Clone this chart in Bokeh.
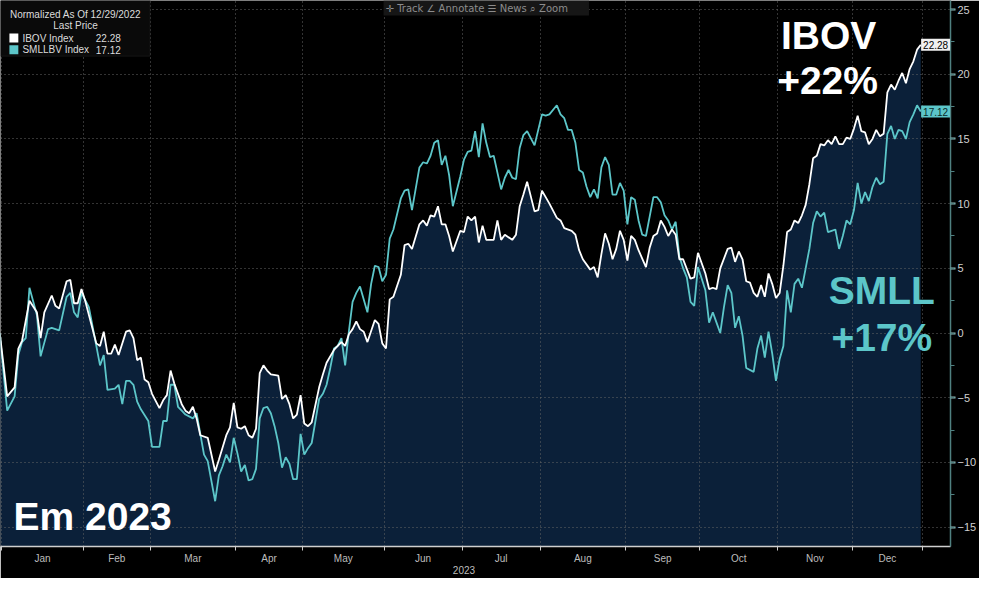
from bokeh.plotting import figure
from bokeh.models import Range1d, FixedTicker, SingleIntervalTicker, Label, BoxAnnotation
from bokeh.embed import file_html
from bokeh.resources import INLINE

# ---------------- data ----------------
months = ["Jan", "Feb", "Mar", "Apr", "May", "Jun", "Jul", "Aug", "Sep", "Oct", "Nov", "Dec"]
month_trading_days = [22, 18, 23, 18, 22, 21, 21, 23, 20, 21, 20, 19]
year_label = "2023"

# trading-day index (0 = 12/29/2022 base) and normalized % change
ibov_day = [0, 2, 4, 5, 6, 8, 10, 11, 12, 14, 15, 16, 18, 19, 20, 21, 22, 23, 26, 27, 28, 29, 30, 31, 32,
            34, 35, 36, 37, 38, 39, 40, 41, 43, 44, 45, 46, 47, 49, 50, 51, 52, 53, 54, 56, 58, 59, 61, 62,
            63, 64, 65, 66, 67, 68, 69, 70, 71, 72, 73, 75, 76, 77, 78, 79, 80, 81, 82, 83, 84, 86, 87, 88,
            90, 91, 92, 93, 94, 95, 96, 97, 98, 99, 101, 102, 103, 104, 105, 106, 108, 109, 110, 111, 113,
            114, 115, 116, 117, 118, 119, 120, 121, 122, 124, 125, 126, 127, 128, 129, 130, 131, 132, 133,
            134, 135, 136, 138, 139, 140, 141, 142, 144, 145, 146, 147, 148, 150, 151, 152, 154, 155, 156,
            157, 159, 160, 161, 162, 163, 164, 165, 166, 167, 168, 169, 170, 171, 172, 174, 175, 176, 177,
            178, 179, 180, 181, 182, 183, 184, 186, 187, 188, 190, 191, 192, 193, 194, 196, 197, 198, 199,
            200, 201, 202, 203, 204, 205, 206, 207, 208, 209, 210, 211, 212, 213, 214, 215, 216, 217, 218,
            219, 220, 221, 222, 223, 224, 225, 226, 227, 228, 229, 230, 231, 232, 233, 234, 235, 236, 237,
            238, 239, 240, 241, 242, 243, 244, 245, 246, 247, 248]
ibov_val = [0, -4.9, -4.2, -1.2, -0.6, 2.5, 1.6, -0.4, 1.6, 2.9, 2.1, 1.9, 4.0, 4.1, 2.3, 2.3, 3.4, 2.5, -0.8,
            -1.0, 0.1, -1.6, -1.6, -0.9, -1.7, 0.1, 0.2, -0.4, -2.1, -1.9, -3.6, -3.8, -4.7, -5.8, -5.2, -4.8,
            -2.9, -3.9, -5.5, -6.0, -6.2, -5.7, -6.6, -7.9, -8.1, -10.7, -9.8, -7.9, -7.3, -5.4, -7.3, -7.4,
            -7.2, -7.9, -8.1, -7.4, -3.1, -2.5, -2.9, -3.2, -3.3, -5.1, -4.8, -5.5, -6.6, -6.3, -4.8, -7.0,
            -7.2, -6.9, -4.2, -3.2, -2.3, -1.3, -1.0, -0.7, -1.0, -0.1, 0.3, 0.9, 0.3, 0.1, -0.7, 1.0, 0.7,
            -0.8, -1.2, 2.6, 2.8, 4.5, 6.8, 6.9, 6.5, 8.4, 8.7, 8.3, 9.1, 9.0, 9.8, 8.4, 8.4, 7.5, 6.3, 7.9,
            7.8, 9.0, 8.7, 9.0, 7.0, 8.3, 7.2, 7.2, 7.2, 8.7, 7.2, 7.6, 7.2, 7.6, 9.8, 10.7, 11.7, 9.4, 9.5,
            11.0, 10.5, 10.0, 8.9, 8.7, 8.1, 7.9, 7.6, 6.4, 5.7, 4.9, 5.1, 4.3, 6.1, 7.7, 6.9, 5.7, 6.5, 7.9,
            7.2, 5.6, 7.5, 7.2, 6.4, 5.1, 6.6, 7.5, 7.7, 8.7, 8.2, 7.5, 8.0, 7.6, 5.7, 5.7, 4.2, 4.3, 6.2,
            4.6, 3.4, 3.5, 3.4, 5.0, 6.5, 6.6, 5.5, 6.3, 5.7, 4.0, 3.9, 3.1, 2.8, 3.7, 2.8, 4.6, 3.8, 2.7,
            3.1, 5.2, 7.8, 8.0, 8.7, 8.5, 9.1, 9.9, 11.5, 13.5, 13.7, 14.6, 14.5, 14.9, 14.6, 15.2, 14.6,
            14.6, 15.1, 15.0, 15.8, 16.8, 15.6, 15.5, 14.6, 15.0, 15.7, 15.2, 15.4, 18.6, 19.2, 18.8, 19.5,
            20.1, 19.3, 20.4, 21.0, 21.9, 22.28]

smll_day = [0, 2, 4, 5, 6, 7, 8, 10, 11, 13, 14, 15, 16, 18, 19, 20, 21, 22, 24, 26, 27, 28, 29, 31, 32, 33,
            34, 35, 36, 37, 38, 40, 41, 43, 44, 45, 46, 47, 48, 49, 50, 52, 53, 55, 56, 58, 59, 60, 61, 62,
            63, 64, 65, 66, 67, 68, 69, 70, 71, 72, 73, 74, 75, 76, 77, 78, 79, 80, 81, 82, 83, 84, 86, 87,
            88, 89, 90, 91, 92, 93, 94, 95, 96, 97, 99, 100, 101, 102, 103, 104, 105, 106, 108, 109, 110,
            111, 113, 114, 115, 116, 117, 118, 119, 120, 121, 122, 124, 125, 126, 127, 128, 129, 130, 131,
            132, 133, 135, 136, 137, 138, 139, 140, 141, 142, 144, 146, 147, 148, 150, 151, 152, 153, 154,
            155, 156, 157, 158, 159, 160, 161, 162, 163, 164, 165, 166, 167, 168, 169, 170, 171, 172, 173,
            174, 176, 177, 178, 179, 180, 181, 182, 183, 184, 185, 186, 187, 188, 190, 191, 192, 193, 194,
            195, 196, 197, 198, 199, 200, 201, 203, 204, 205, 206, 207, 208, 209, 210, 211, 212, 213, 214,
            215, 216, 217, 218, 219, 220, 221, 222, 223, 224, 225, 226, 227, 228, 229, 230, 231, 232, 233,
            234, 235, 236, 237, 238, 239, 240, 241, 242, 243, 244, 245, 246, 247, 248]
smll_val = [0, -6.0, -4.9, -1.7, -0.7, -0.4, 3.5, 1.4, -1.8, 0.3, 0.4, 0.3, 0.2, 2.8, 3.1, 1.6, 1.2, 3.1, 2.0,
            -1.0, -2.5, -1.7, -4.4, -4.3, -4.0, -5.5, -3.7, -3.7, -4.0, -5.3, -5.9, -6.8, -8.8, -8.8, -6.8,
            -6.8, -4.0, -4.0, -5.7, -6.0, -6.3, -6.6, -6.2, -9.4, -9.9, -13.0, -11.0, -10.3, -9.4, -10.0,
            -8.1, -9.3, -10.7, -10.2, -11.4, -11.3, -10.5, -6.6, -5.8, -5.7, -6.2, -7.2, -8.5, -10.4, -9.6,
            -10.1, -11.3, -11.3, -7.8, -9.4, -8.9, -8.5, -5.1, -4.7, -4.0, -2.7, -1.2, -1.0, -0.4, -2.5, 0.1,
            2.4, 3.1, 3.6, 1.6, 3.8, 5.2, 5.1, 4.0, 4.5, 7.3, 8.0, 10.4, 11.0, 11.1, 9.5, 12.8, 13.2, 13.1,
            13.7, 14.7, 14.9, 13.0, 13.7, 12.2, 9.8, 12.1, 13.4, 14.0, 14.1, 15.6, 13.6, 16.2, 14.7, 13.6,
            13.7, 11.1, 12.0, 12.6, 12.0, 11.9, 14.3, 15.3, 15.6, 14.5, 16.9, 16.8, 16.9, 17.6, 16.9, 16.6,
            15.7, 15.7, 14.7, 12.6, 12.4, 11.3, 10.5, 11.1, 10.4, 12.8, 13.6, 13.0, 10.7, 10.7, 11.6, 11.0,
            8.4, 10.5, 10.3, 8.7, 7.6, 7.5, 10.5, 10.5, 10.1, 9.1, 8.7, 8.0, 8.6, 5.9, 5.0, 4.3, 2.4, 2.1,
            5.1, 3.3, 0.8, 1.6, 0.8, 0.0, 2.0, 3.7, 3.1, 0.4, 1.3, -0.2, -2.7, -3.0, -1.2, -0.2, -1.9, 0.1,
            -1.6, -3.7, -2.0, -1.0, 3.3, 1.6, 3.8, 4.2, 3.5, 5.0, 6.5, 8.5, 9.4, 9.0, 9.3, 7.8, 7.9, 8.0,
            6.5, 7.5, 8.7, 8.4, 9.5, 11.6, 10.0, 10.9, 10.2, 11.3, 12.0, 11.5, 11.7, 15.4, 16.0, 15.0, 15.7,
            15.6, 15.0, 16.3, 16.9, 17.6, 17.12]

ibov_last = 22.28
smll_last = 17.12

# month boundaries and centres on the trading-day axis
bounds = [0.5]
for n in month_trading_days:
    bounds.append(bounds[-1] + n)
mids = [(a + b) / 2 for a, b in zip(bounds[:-1], bounds[1:])]
year_pos = (bounds[0] + bounds[-1]) / 2 + 0.5

TEAL = "#5cc6c9"
FILL = "#0b2039"
FONT = "Liberation Sans"
X_END = 256.0

p = figure(width=979, height=578, x_range=Range1d(0.2, X_END), y_range=Range1d(-16.5, 25.7),
           output_backend="svg", toolbar_location=None, y_axis_location="right",
           background_fill_color="black", border_fill_color="black", outline_line_color=None,
           min_border_left=0, min_border_top=0, min_border_right=0, min_border_bottom=0)

# area under IBOV
p.varea(x=ibov_day, y1=-20, y2=ibov_val, fill_color=FILL, level="image")
p.line(smll_day, smll_val, line_color=TEAL, line_width=1.8)
p.line(ibov_day, ibov_val, line_color="white", line_width=1.8)

# y axis (right)
p.yaxis.ticker = SingleIntervalTicker(interval=5, num_minor_ticks=2)
p.yaxis.major_label_text_color = "#d0d0d0"
p.yaxis.major_label_text_font = FONT
p.yaxis.major_label_text_font_size = "11px"
p.yaxis.axis_line_color = "#4f8080"
p.yaxis.axis_line_width = 1.5
p.yaxis.major_tick_line_color = "#8fbcbc"
p.yaxis.major_tick_line_width = 2
p.yaxis.major_tick_out = 5
p.yaxis.major_tick_in = 0
p.yaxis.minor_tick_line_color = "#4f8080"
p.yaxis.minor_tick_out = 4
p.yaxis.minor_tick_in = 0
p.yaxis.major_label_standoff = 2

# x axis: month names between month-boundary ticks, year on a second line
overrides = {m: name for m, name in zip(mids, months)}
overrides[year_pos] = " \n" + year_label
p.xaxis.ticker = FixedTicker(ticks=mids + [year_pos], minor_ticks=bounds)
p.xaxis.major_label_overrides = overrides
p.xaxis.major_tick_out = 0
p.xaxis.major_tick_in = 0
p.xaxis.minor_tick_out = 4
p.xaxis.minor_tick_in = 0
p.xaxis.minor_tick_line_color = "#cccccc"
p.xaxis.axis_line_color = "#cfcfcf"
p.xaxis.axis_line_width = 1.5
p.xaxis.major_label_text_color = "#bdbdbd"
p.xaxis.major_label_text_font = FONT
p.xaxis.major_label_text_font_size = "10px"
p.xaxis.major_label_text_line_height = 1.1
p.xaxis.major_label_standoff = 2

p.xgrid.ticker = FixedTicker(ticks=bounds)
for g in (p.xgrid, p.ygrid):
    g.grid_line_color = "#666666"
    g.grid_line_dash = "1 3"
    g.grid_line_width = 1

# last-price tags at the right edge
p.add_layout(Label(x=X_END - 0.1, y=ibov_last, text=f"{ibov_last:.2f}", text_align="right",
                   text_baseline="middle", text_color="black", text_font=FONT, text_font_size="10px",
                   background_fill_color="#f0f0f0", padding=2))
p.add_layout(Label(x=X_END - 0.1, y=smll_last, text=f"{smll_last:.2f}", text_align="right",
                   text_baseline="middle", text_color="#0a2a2a", text_font=FONT, text_font_size="10px",
                   background_fill_color=TEAL, padding=2))

# legend box (top-left)
p.add_layout(BoxAnnotation(left=0.2, right=40.5, top=25.7, bottom=21.4, fill_color="#0a0a0a",
                           fill_alpha=1, line_color="#3c3c3c", line_width=1))
leg_style = dict(text_color="#dcdcdc", text_font=FONT, text_font_size="10px", text_baseline="middle")
p.add_layout(Label(x=20.4, y=24.65, text="Normalized As Of 12/29/2022", text_align="center", **leg_style))
p.add_layout(Label(x=20.4, y=23.75, text="Last Price", text_align="center", **leg_style))
p.add_layout(BoxAnnotation(left=2.6, right=5.0, top=23.15, bottom=22.45, fill_color="white",
                           fill_alpha=1, line_color=None))
p.add_layout(BoxAnnotation(left=2.6, right=5.0, top=22.25, bottom=21.55, fill_color=TEAL,
                           fill_alpha=1, line_color=None))
p.add_layout(Label(x=6.1, y=22.8, text="IBOV Index", text_align="left", **leg_style))
p.add_layout(Label(x=32.6, y=22.8, text=f"{ibov_last:.2f}", text_align="right", **leg_style))
p.add_layout(Label(x=6.1, y=21.9, text="SMLLBV Index", text_align="left", **leg_style))
p.add_layout(Label(x=32.6, y=21.9, text=f"{smll_last:.2f}", text_align="right", **leg_style))

# terminal toolbar strip
p.add_layout(Label(x=131.0, y=25.7, text="✛ Track   ∠ Annotate   ☰ News   ⌕ Zoom", text_align="center",
                   text_baseline="top", text_color="#8c8c8c", text_font="DejaVu Sans", text_font_size="10px",
                   background_fill_color="#161616", padding=2))

# big annotations
big = dict(text_font=FONT, text_font_style="bold", text_font_size="39px", text_align="center",
           text_baseline="middle")
p.add_layout(Label(x=223.2, y=23.0, text="IBOV", text_color="white", **big))
p.add_layout(Label(x=222.9, y=19.55, text="+22%", text_color="white", **big))
p.add_layout(Label(x=237.5, y=3.3, text="SMLL", text_color=TEAL, **big))
p.add_layout(Label(x=237.5, y=-0.35, text="+17%", text_color=TEAL, **big))
p.add_layout(Label(x=3.7, y=-14.2, text="Em 2023", text_color="white", text_font=FONT, text_font_style="bold",
                   text_font_size="39px", text_align="left", text_baseline="middle"))

open("out.html", "w").write(file_html(p, INLINE))
